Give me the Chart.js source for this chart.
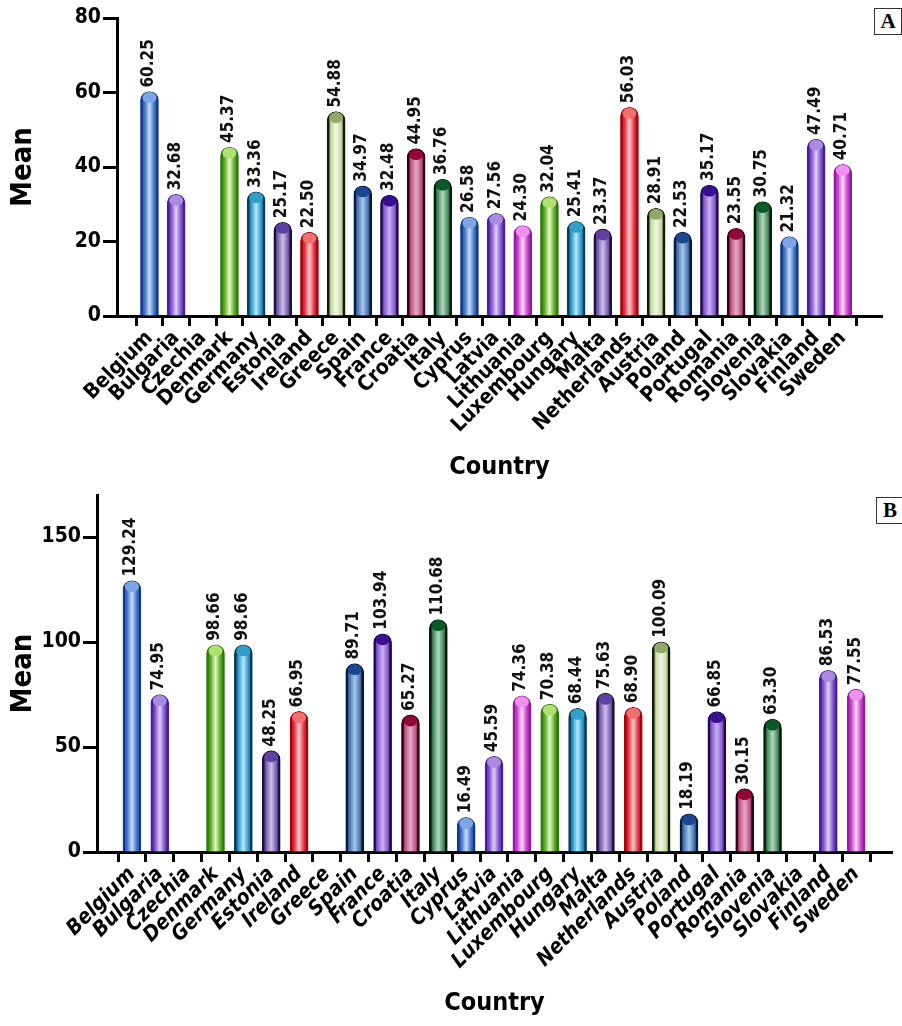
<!DOCTYPE html>
<html>
<head>
<meta charset="utf-8">
<script src="https://cdn.jsdelivr.net/npm/chart.js@4.4.1/dist/chart.umd.min.js"></script>
<style>
  body { margin: 0; background: #fff; }
  .wrap { position: relative; width: 902px; height: 1026px; overflow: hidden; }
  canvas { position: absolute; left: 0; }
  .tag {
    position: absolute; width: 26px; height: 25px; border: 1px solid #333;
    font: bold 21px "Liberation Serif", serif; text-align: center; line-height: 25px; background: #fff;
  }
</style>
</head>
<body>
<div class="wrap">
  <canvas id="chartA" width="902" height="490" style="top:0"></canvas>
  <canvas id="chartB" width="902" height="556" style="top:470px"></canvas>
  <div class="tag" style="left:874px; top:8px">A</div>
  <div class="tag" style="left:876px; top:497px">B</div>
</div>
<script>
const countries = ['Belgium', 'Bulgaria', 'Czechia', 'Denmark', 'Germany', 'Estonia', 'Ireland', 'Greece', 'Spain',
  'France', 'Croatia', 'Italy', 'Cyprus', 'Latvia', 'Lithuania', 'Luxembourg', 'Hungary', 'Malta', 'Netherlands',
  'Austria', 'Poland', 'Portugal', 'Romania', 'Slovenia', 'Slovakia', 'Finland', 'Sweden'];

const meanA = [60.25, 32.68, null, 45.37, 33.36, 25.17, 22.50, 54.88, 34.97, 32.48, 44.95, 36.76, 26.58, 27.56,
  24.30, 32.04, 25.41, 23.37, 56.03, 28.91, 22.53, 35.17, 23.55, 30.75, 21.32, 47.49, 40.71];

const meanB = [129.24, 74.95, null, 98.66, 98.66, 48.25, 66.95, null, 89.71, 103.94, 65.27, 110.68, 16.49, 45.59,
  74.36, 70.38, 68.44, 75.63, 68.90, 100.09, 18.19, 66.85, 30.15, 63.30, null, 86.53, 77.55];

const ticksA = [0, 20, 40, 60, 80];
const ticksB = [0, 50, 100, 150];

// edge, mid, centre, cap  (colours repeat every 12 bars)
const palette = [
  ['#123a8a', '#3d6fc4', '#c6dcf7', '#7ea6e4'],
  ['#4a1aa0', '#7a4ec8', '#e0d0f8', '#a98ce0'],
  ['#9a189f', '#c040c8', '#ffd8ff', '#f090f0'],
  ['#2e7a0a', '#5aa828', '#e8f8c8', '#b0e070'],
  ['#0a3a5a', '#2a98c8', '#b8e8f8', '#30a0c8'],
  ['#1a1040', '#7a60b0', '#cfc0e6', '#6040a0'],
  ['#a8000c', '#d83040', '#ffc8c8', '#f07070'],
  ['#101a08', '#c8dca8', '#f0f8e0', '#90a868'],
  ['#0a1838', '#4a78b8', '#a8c8e8', '#1a4890'],
  ['#200858', '#8a60d0', '#c8b0f0', '#3a1090'],
  ['#300010', '#c05888', '#e8a8c8', '#900838'],
  ['#051a0a', '#4a8a60', '#b0d8c0', '#0a5a28']
];

const narrow = '"DejaVu Sans Condensed", "DejaVu Sans", sans-serif';

const barFill = (c) => {
  const p = palette[c.dataIndex % palette.length];
  const xs = c.chart.scales.x;
  if (!xs || c.type !== 'data') return p[1];
  const px = xs.getPixelForValue(c.dataIndex);
  if (!Number.isFinite(px)) return p[1];
  const g = c.chart.ctx.createLinearGradient(px - 9, 0, px + 9, 0);
  g.addColorStop(0, p[0]);
  g.addColorStop(0.22, p[1]);
  g.addColorStop(0.5, p[2]);
  g.addColorStop(0.78, p[1]);
  g.addColorStop(1, p[0]);
  return g;
};

const barLabels = {
  id: 'barLabels',
  afterDatasetsDraw(chart) {
    const ctx = chart.ctx;
    const meta = chart.getDatasetMeta(0);
    meta.data.forEach((bar, i) => {
      const v = chart.data.datasets[0].data[i].y;
      if (v == null) return;
      const p = palette[i % palette.length];
      ctx.save();
      ctx.fillStyle = p[3];
      ctx.beginPath();
      ctx.ellipse(bar.x, bar.y + 6, bar.width / 2 - 2, 5.5, 0, 0, Math.PI * 2);
      ctx.fill();
      ctx.translate(bar.x - 1, bar.y - 4);
      ctx.rotate(-Math.PI / 2);
      ctx.font = 'bold 17px ' + narrow;
      ctx.fillStyle = '#111';
      ctx.textAlign = 'left';
      ctx.textBaseline = 'middle';
      ctx.fillText(v.toFixed(2), 0, 0);
      ctx.restore();
    });
  }
};

const makeChart = (id, values, yMax, yTicks, xMin, xMax, area, italic) => {
  const canvas = document.getElementById(id);
  return new Chart(canvas, {
    type: 'bar',
    data: {
      datasets: [{
        data: values.map((v, i) => ({ x: i, y: v })),
        backgroundColor: barFill,
        borderColor: (c) => palette[c.dataIndex % palette.length][0],
        borderWidth: 2.5,
        borderSkipped: 'bottom',
        borderRadius: { topLeft: 9, topRight: 9 },
        barThickness: 18
      }]
    },
    options: {
      responsive: false,
      animation: false,
      layout: { padding: { top: area.top, right: canvas.width - area.right, bottom: 0, left: 0 } },
      plugins: { legend: { display: false }, tooltip: { enabled: false } },
      scales: {
        x: {
          type: 'linear',
          min: xMin,
          max: xMax,
          afterBuildTicks: (s) => { s.ticks = countries.map((_, i) => ({ value: i })); },
          afterFit: (s) => { s.height = canvas.height - area.bottom; },
          border: { display: true, color: '#000', width: 3 },
          grid: { drawOnChartArea: false, drawTicks: true, tickLength: 10, tickWidth: 3, tickColor: '#000' },
          ticks: {
            autoSkip: false,
            minRotation: 45,
            maxRotation: 45,
            padding: 0,
            color: '#000',
            font: { family: narrow, size: 21, weight: 'bold', style: italic ? 'italic' : 'normal' },
            callback: (v) => countries[v]
          },
          title: {
            display: true,
            text: 'Country',
            color: '#000',
            font: { family: narrow, size: 25, weight: 'bold' },
            padding: { top: 0, bottom: 8 }
          }
        },
        y: {
          min: 0,
          max: yMax,
          afterBuildTicks: (s) => { s.ticks = yTicks.map((v) => ({ value: v })); },
          afterFit: (s) => { s.width = area.left; },
          border: { display: true, color: '#000', width: 3 },
          grid: { drawOnChartArea: false, drawTicks: true, tickLength: 14, tickWidth: 3, tickColor: '#000' },
          ticks: {
            padding: 2,
            color: '#000',
            font: { family: narrow, size: 21, weight: 'bold' }
          },
          title: {
            display: true,
            text: 'Mean',
            color: '#000',
            font: { family: narrow, size: 29, weight: 'bold' },
            padding: { top: 6, bottom: 0 }
          }
        }
      }
    },
    plugins: [barLabels]
  });
};

makeChart('chartA', meanA, 80, ticksA, -0.686, 26.94, { left: 117, right: 882, top: 18, bottom: 316 }, false);
makeChart('chartB', meanB, 170, ticksB, -0.726, 26.76, { left: 97, right: 892, top: 25, bottom: 382 }, true);
</script>
</body>
</html>
